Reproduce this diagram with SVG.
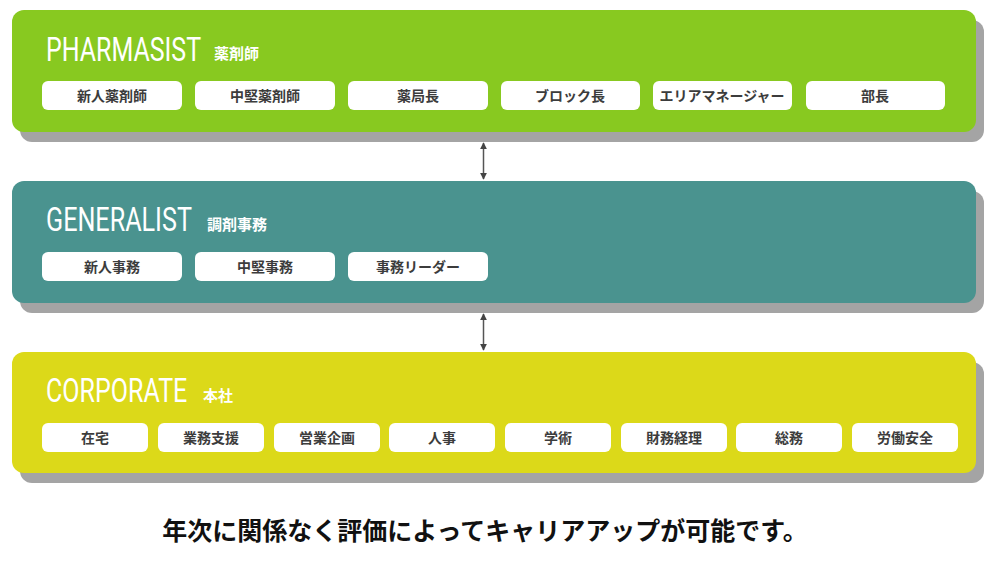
<svg xmlns="http://www.w3.org/2000/svg" width="996" height="565" viewBox="0 0 996 565">
<defs>
<style>
.shadow{fill:#a4a4a4}
.title{font-family:Roboto,"Liberation Sans",sans-serif;font-size:34px;fill:#ffffff;font-weight:400}
.sub{font-family:"Noto Sans CJK JP","Noto Sans",sans-serif;font-size:15px;font-weight:700;fill:#ffffff}
.pill{fill:#ffffff}
.pt{font-family:"Noto Sans CJK JP","Noto Sans",sans-serif;font-size:14px;font-weight:700;fill:#3c3c3c;text-anchor:middle}
.conn{stroke:#555555;stroke-width:1.5;fill:none}
.foot{font-family:"Noto Sans CJK JP","Noto Sans",sans-serif;font-size:25px;font-weight:700;fill:#111111;text-anchor:middle}
</style>
<marker id="ah" viewBox="0 0 10 10" refX="9" refY="5" markerWidth="7" markerHeight="7" orient="auto-start-reverse" markerUnits="userSpaceOnUse">
<path d="M0,0 L10,5 L0,10 Z" fill="#444444"/>
</marker>
</defs>
<rect width="996" height="565" fill="#ffffff"/>

<g id="pharmasist">
<rect class="shadow" x="20" y="20" width="964" height="122" rx="12"/>
<rect x="12" y="10" width="964" height="122" rx="12" fill="#88c920"/>
<text class="title" transform="translate(46,61) scale(0.76,1)" x="0" y="0" textLength="204" lengthAdjust="spacingAndGlyphs">PHARMASIST</text>
<text class="sub" x="214" y="59">薬剤師</text>
<g id="p1"><rect class="pill" x="42" y="81" width="140" height="29" rx="6"/><text class="pt" x="112" y="100.5">新人薬剤師</text></g>
<g id="p2"><rect class="pill" x="195" y="81" width="140" height="29" rx="6"/><text class="pt" x="265" y="100.5">中堅薬剤師</text></g>
<g id="p3"><rect class="pill" x="348" y="81" width="140" height="29" rx="6"/><text class="pt" x="418" y="100.5">薬局長</text></g>
<g id="p4"><rect class="pill" x="501" y="81" width="139" height="29" rx="6"/><text class="pt" x="570" y="100.5">ブロック長</text></g>
<g id="p5"><rect class="pill" x="653" y="81" width="139" height="29" rx="6"/><text class="pt" x="722" y="100.5">エリアマネージャー</text></g>
<g id="p6"><rect class="pill" x="806" y="81" width="139" height="29" rx="6"/><text class="pt" x="875" y="100.5">部長</text></g>
</g>

<g id="generalist">
<rect class="shadow" x="20" y="191" width="964" height="122" rx="12"/>
<rect x="12" y="181" width="964" height="122" rx="12" fill="#4a938f"/>
<text class="title" transform="translate(46,231) scale(0.76,1)" x="0" y="0" textLength="192" lengthAdjust="spacingAndGlyphs">GENERALIST</text>
<text class="sub" x="207" y="230">調剤事務</text>
<g id="g1"><rect class="pill" x="42" y="252" width="140" height="29" rx="6"/><text class="pt" x="112" y="271.5">新人事務</text></g>
<g id="g2"><rect class="pill" x="195" y="252" width="140" height="29" rx="6"/><text class="pt" x="265" y="271.5">中堅事務</text></g>
<g id="g3"><rect class="pill" x="348" y="252" width="140" height="29" rx="6"/><text class="pt" x="418" y="271.5">事務リーダー</text></g>
</g>

<g id="corporate">
<rect class="shadow" x="20" y="362" width="964" height="121" rx="12"/>
<rect x="12" y="352" width="964" height="121" rx="12" fill="#dcd919"/>
<text class="title" transform="translate(46,402) scale(0.76,1)" x="0" y="0" textLength="186" lengthAdjust="spacingAndGlyphs">CORPORATE</text>
<text class="sub" x="203" y="401">本社</text>
<g id="c1"><rect class="pill" x="42" y="423" width="106" height="29" rx="6"/><text class="pt" x="95" y="442.5">在宅</text></g>
<g id="c2"><rect class="pill" x="158" y="423" width="106" height="29" rx="6"/><text class="pt" x="211" y="442.5">業務支援</text></g>
<g id="c3"><rect class="pill" x="274" y="423" width="106" height="29" rx="6"/><text class="pt" x="327" y="442.5">営業企画</text></g>
<g id="c4"><rect class="pill" x="389" y="423" width="106" height="29" rx="6"/><text class="pt" x="442" y="442.5">人事</text></g>
<g id="c5"><rect class="pill" x="505" y="423" width="106" height="29" rx="6"/><text class="pt" x="558" y="442.5">学術</text></g>
<g id="c6"><rect class="pill" x="621" y="423" width="106" height="29" rx="6"/><text class="pt" x="674" y="442.5">財務経理</text></g>
<g id="c7"><rect class="pill" x="736" y="423" width="106" height="29" rx="6"/><text class="pt" x="789" y="442.5">総務</text></g>
<g id="c8"><rect class="pill" x="852" y="423" width="106" height="29" rx="6"/><text class="pt" x="905" y="442.5">労働安全</text></g>
</g>

<g id="connectors">
<line class="conn" x1="483.5" y1="143" x2="483.5" y2="179" marker-start="url(#ah)" marker-end="url(#ah)"/>
<line class="conn" x1="483.5" y1="314" x2="483.5" y2="350" marker-start="url(#ah)" marker-end="url(#ah)"/>
</g>

<text class="foot" x="485" y="540">年次に関係なく評価によってキャリアアップが可能です。</text>
</svg>
